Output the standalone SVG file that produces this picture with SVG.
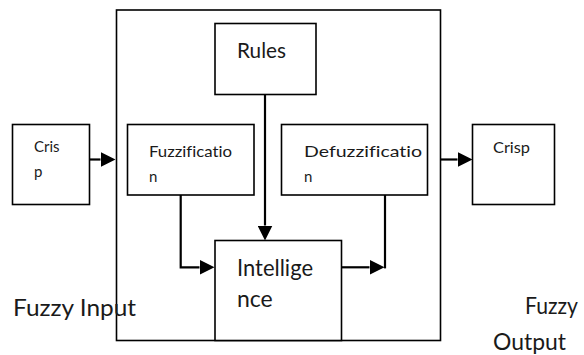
<svg xmlns="http://www.w3.org/2000/svg" width="584" height="355" viewBox="0 0 584 355">
<style>
.box{fill:#fff;stroke:#000;stroke-width:1.6}
.outer{fill:none;stroke:#000;stroke-width:1.6}
.con{fill:none;stroke:#000;stroke-width:2.2}
text{font-family:Lato,"Open Sans","Liberation Sans",sans-serif;fill:#1a1a1a;font-variant-ligatures:none}
.s{font-size:15px}
.m{font-size:21px}
.l{font-size:23px}
</style>
<defs>
<marker id="ah" markerWidth="15" markerHeight="15" refX="0" refY="7.5" orient="auto" markerUnits="userSpaceOnUse">
<path d="M0,0 L15,7.5 L0,15 Z" fill="#000"/>
</marker>
</defs>
<rect width="584" height="355" fill="#fff"/>
<g id="system">
<rect class="outer" x="116.5" y="10" width="324" height="330.5"/>
</g>
<g id="rules">
<rect class="box" x="215" y="23.5" width="101" height="71"/>
<text class="m" x="237" y="58" textLength="49" lengthAdjust="spacingAndGlyphs">Rules</text>
</g>
<g id="crisp-in">
<rect class="box" x="12.5" y="124.5" width="77" height="80"/>
<text class="s" x="34" y="152">Cris</text>
<text class="s" x="34" y="177">p</text>
</g>
<g id="fuzzification">
<rect class="box" x="127.5" y="124.5" width="126.5" height="70.5"/>
<text class="s" x="149" y="157" textLength="83" lengthAdjust="spacingAndGlyphs">Fuzzificatio</text>
<text class="s" x="149" y="182">n</text>
</g>
<g id="defuzzification">
<rect class="box" x="281.5" y="124.5" width="146" height="70.5"/>
<text class="s" x="304" y="157" textLength="118" lengthAdjust="spacingAndGlyphs">Defuzzificatio</text>
<text class="s" x="304" y="182">n</text>
</g>
<g id="crisp-out">
<rect class="box" x="472.5" y="124.5" width="82" height="80"/>
<text class="s" x="493" y="153" textLength="37" lengthAdjust="spacingAndGlyphs">Crisp</text>
</g>
<g id="intelligence">
<rect class="box" x="215" y="240.5" width="126.5" height="100"/>
<text class="l" x="237" y="276" textLength="76" lengthAdjust="spacingAndGlyphs">Intellige</text>
<text class="l" x="237" y="307">nce</text>
</g>
<g id="labels">
<text class="l" x="13" y="316" textLength="123" lengthAdjust="spacingAndGlyphs">Fuzzy Input</text>
<text class="l" x="525" y="314" textLength="53" lengthAdjust="spacingAndGlyphs">Fuzzy</text>
<text class="l" x="493" y="350" textLength="73" lengthAdjust="spacingAndGlyphs">Output</text>
</g>
<g id="connectors">
<path class="con" d="M89.5,159.5 H100.5" marker-end="url(#ah)"/>
<path class="con" d="M440.5,159.5 H457.5" marker-end="url(#ah)"/>
<path class="con" d="M265,94.5 V225.5" marker-end="url(#ah)"/>
<path class="con" d="M180.7,195 V267.3 H199.5" marker-end="url(#ah)"/>
<path class="con" d="M341.5,267.3 H369.5" marker-end="url(#ah)"/>
<path class="con" d="M385,195 V268.4"/>
</g>
</svg>
